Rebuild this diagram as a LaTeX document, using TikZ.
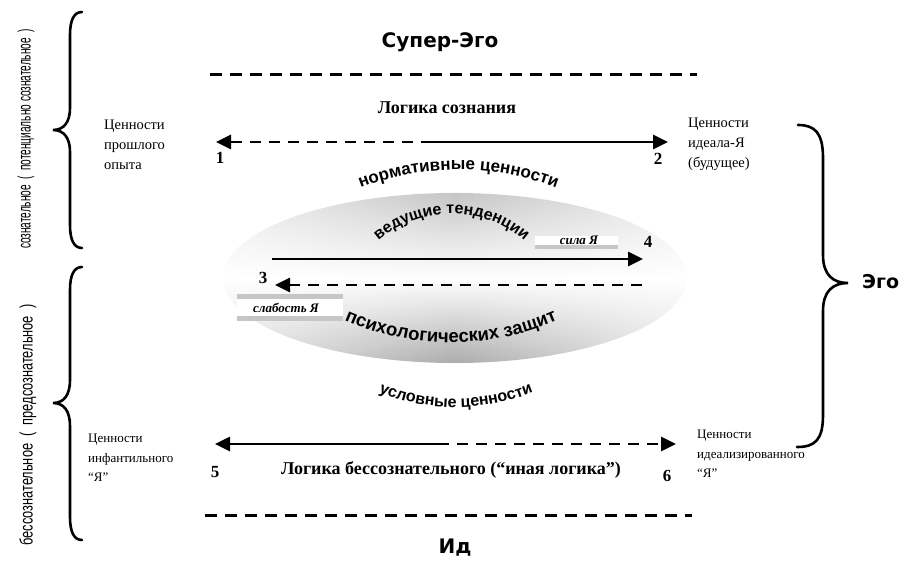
\documentclass[tikz,border=0pt]{standalone}
\usepackage{fontspec}
\setmainfont{Liberation Serif}
\newfontfamily\sansf{Liberation Sans}
\newfontfamily\dejaf{DejaVu Sans}
\usetikzlibrary{arrows.meta,decorations.text,fadings}
\tikzfading[name=sidefade, left color=transparent!70, right color=transparent!70, middle color=transparent!0]
\tikzset{
  arr/.style={line width=2.6pt, -{Triangle[length=15pt,width=14pt]}},
  dsh/.style={dash pattern=on 11pt off 8pt},
  sep/.style={line width=3pt, dash pattern=on 12pt off 8pt},
  lab/.style={font=\fontsize{14.5}{20}\selectfont, align=left, inner sep=0pt, anchor=north west},
  labs/.style={font=\fontsize{13}{19.5}\selectfont, align=left, inner sep=0pt, anchor=north west},
  num/.style={font=\bfseries\fontsize{17}{17}\selectfont, inner sep=0pt},
  logic/.style={font=\bfseries\fontsize{18}{18}\selectfont, inner sep=0pt},
  big/.style={font=\dejaf\bfseries\fontsize{20}{20}\selectfont, inner sep=0pt},
  brace/.style={line width=2.6pt, line cap=round},
  vert/.style={rotate=90, inner sep=0pt},
  bar/.style={fill=gray!45},
  curv/.style={decorate, decoration={text along path, text align=center}}
}
\begin{document}
\begin{tikzpicture}[x=1pt,y=-1pt]
\useasboundingbox (0,0) rectangle (907,561);
\fill[white] (0,0) rectangle (907,561);

% lens (drawn without the y flip)
\begin{scope}[y=1pt]
\shade[top color=gray!45, bottom color=gray!65, middle color=white, path fading=sidefade]
  (455,-278) ellipse [x radius=232, y radius=85];
\end{scope}

% Super-Ego, Id
\node[big] (superego) at (440,42) {Супер-Эго};
\coordinate (s1) at (210,75); \coordinate (s2) at (697,75);
\draw[sep] (s1) -- (s2);
\coordinate (i1) at (205,515); \coordinate (i2) at (692,515);
\draw[sep] (i1) -- (i2);
\node[big] (id) at (455,548) {Ид};

% top logic
\node[logic] (logicc) at (447,108) {Логика сознания};
\coordinate (a1l) at (216,142); \coordinate (a1m) at (432,142); \coordinate (a1r) at (668,142);
\draw[arr,dsh] (a1m) -- (a1l);
\draw[arr] (a1m) -- (a1r);
\node[num] (n1) at (220,158) {1};
\node[num] (n2) at (658,159) {2};
\node[lab] (past) at (104,120) {Ценности\\прошлого\\опыта};
\node[lab] (ideal) at (688,118) {Ценности\\идеала-Я\\(будущее)};

% inner arrows and boxes
\fill[white] (535,236) rectangle (618,245);
\fill[bar] (535,245) rectangle (618,249);
\node[font=\bfseries\itshape\fontsize{13}{13}\selectfont, inner sep=0pt] (sila) at (579,240) {сила Я};
\coordinate (a2l) at (272,259); \coordinate (a2r) at (643,259);
\draw[arr] (a2l) -- (a2r);
\node[num] (n4) at (648,242) {4};
\coordinate (a3r) at (642,285); \coordinate (a3l) at (275,285);
\draw[arr,dsh] (a3r) -- (a3l);
\node[num] (n3) at (263,278) {3};
\fill[bar] (237,294) rectangle (343,299);
\fill[white] (237,299) rectangle (343,316);
\fill[bar] (237,316) rectangle (343,321);
\node[font=\bfseries\itshape\fontsize{13}{13}\selectfont, inner sep=0pt] (slab) at (286,308) {слабость Я};

% curved texts
\path[curv, decoration={text={|\sansf\bfseries\fontsize{17}{17}\selectfont|нормативные ценности}}]
  (355,190) .. controls (421,163) and (495,163) .. (562,190);
\path[curv, decoration={text={|\sansf\bfseries\fontsize{16}{16}\selectfont|ведущие тенденции}}]
  (376,243) .. controls (419,204) and (484,204) .. (527,243);
\path[curv, decoration={text={|\sansf\bfseries\fontsize{18.5}{18.5}\selectfont|психологических защит}}]
  (344,320) .. controls (412,350) and (490,350) .. (558,320);
\path[curv, decoration={text={|\sansf\bfseries\fontsize{16}{16}\selectfont|условные ценности}}]
  (374,390) .. controls (426,413) and (486,413) .. (538,390);

% bottom logic
\coordinate (a4l) at (215,444); \coordinate (a4m) at (438,444); \coordinate (a4r) at (676,444);
\draw[arr] (a4m) -- (a4l);
\draw[arr,dsh] (a4m) -- (a4r);
\node[num] (n5) at (215,472) {5};
\node[num] (n6) at (667,476) {6};
\node[logic] (logicu) at (451,470) {Логика бессознательного (“иная логика”)};
\node[labs] (infant) at (88,434) {Ценности\\инфантильного\\“Я”};
\node[labs] (idealized) at (697,430) {Ценности\\идеализированного\\“Я”};

% right brace Ego
\draw[brace] (798,125) .. controls (815,125) and (823,133) .. (823,158) -- (823,255)
  .. controls (823,275) and (833,283) .. (848,283)
  .. controls (833,283) and (823,291) .. (823,311) -- (823,415)
  .. controls (823,440) and (815,447) .. (797,447);
\node[big, font=\dejaf\bfseries\fontsize{19}{19}\selectfont, anchor=west] (ego) at (862,282) {Эго};

% left braces
\draw[brace] (82,12) .. controls (74,12) and (70,20) .. (70,35) -- (70,108)
  .. controls (70,122) and (64,130) .. (53,130)
  .. controls (64,130) and (70,138) .. (70,152) -- (70,225)
  .. controls (70,240) and (74,248) .. (82,248);
\draw[brace] (82,267) .. controls (74,267) and (70,275) .. (70,290) -- (70,380)
  .. controls (70,395) and (64,403) .. (53,403)
  .. controls (64,403) and (70,411) .. (70,426) -- (70,517)
  .. controls (70,532) and (74,540) .. (82,540);

% vertical labels
\node[vert] (consc) at (26,139) {\scalebox{0.56}[1]{\sansf\fontsize{18}{18}\selectfont сознательное \ ( \ потенциально сознательное \ )}};
\node[vert] (unconsc) at (28,425) {\scalebox{0.71}[1]{\sansf\fontsize{18}{18}\selectfont бессознательное \ ( \ предсознательное \ )}};
\end{tikzpicture}
\end{document}
